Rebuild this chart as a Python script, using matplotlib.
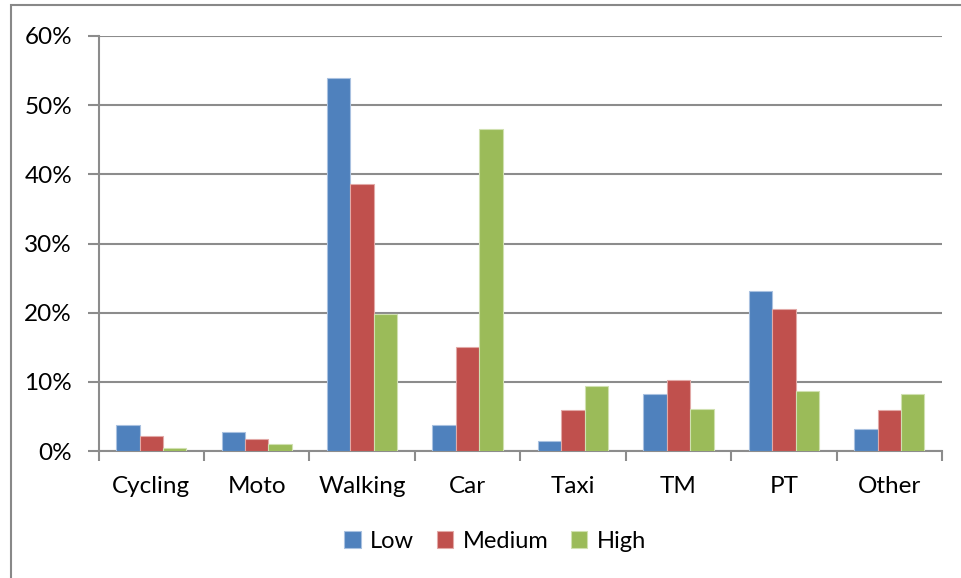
import numpy as np
import matplotlib.pyplot as plt
from matplotlib.patches import Rectangle

plt.rcParams['font.family'] = ['Lato', 'DejaVu Sans']

# Modal split by income level (% of trips)
modos = ['Cycling', 'Moto', 'Walking', 'Car', 'Taxi', 'TM', 'PT', 'Other']
low = [3.8, 2.8, 54.0, 3.7, 1.5, 8.2, 23.1, 3.2]
medium = [2.1, 1.8, 38.6, 15.0, 6.0, 10.3, 20.5, 6.0]
high = [0.4, 1.0, 19.8, 46.5, 9.4, 6.1, 8.7, 8.3]

series = [('Low', low, '#4F81BD', '#a9c1e0'),
          ('Medium', medium, '#C0504D', '#e2a9a7'),
          ('High', high, '#9BBB59', '#d0e0b0')]

W, H = 962, 578
fig = plt.figure(figsize=(W / 100, H / 100), dpi=100)

# marco exterior del gráfico
fig.patches.append(Rectangle((10.5 / W, -0.1), 1.2, 1 - 5.5 / H + 0.1,
                             transform=fig.transFigure, fill=False,
                             edgecolor='#888888', linewidth=1.5))

ax = fig.add_axes([98.5 / W, 1 - 451 / H, (942 - 98.5) / W, (451 - 36) / H])

x = np.arange(len(modos))
ancho = 1 / 4.5
for i, (nombre, vals, color, borde) in enumerate(series):
    ax.bar(x + (i - 1) * ancho, vals, ancho, color=color, edgecolor=borde,
           linewidth=0.8, label=nombre, zorder=3)

ax.set_xlim(-0.5, len(modos) - 0.5)
ax.set_ylim(0, 60)
ax.set_yticks(np.arange(0, 61, 10))
ax.set_yticklabels([f'{v}%' for v in range(0, 61, 10)])
ax.yaxis.grid(True, color='#8c8c8c', linewidth=1.5, zorder=0)
ax.set_axisbelow(True)

ax.set_xticks(x)
ax.set_xticklabels(modos)
ax.set_xticks(np.arange(-0.5, len(modos)), minor=True)
ax.tick_params(axis='x', which='major', length=0, pad=18, labelsize=17.5)
ax.tick_params(axis='x', which='minor', length=7, width=1.5, color='#8c8c8c')
ax.tick_params(axis='y', length=8, width=1.5, color='#8c8c8c', pad=11,
               labelsize=17.5)

for lado in ['top', 'right']:
    ax.spines[lado].set_visible(False)
for lado in ['left', 'bottom']:
    ax.spines[lado].set_color('#8c8c8c')
    ax.spines[lado].set_linewidth(1.5)

fig.legend(loc='center', bbox_to_anchor=(495 / W, 1 - 541 / H), ncol=3,
           frameon=False, fontsize=17, handlelength=0.7, handleheight=0.7,
           handletextpad=0.4, columnspacing=0.95)

plt.savefig('out.png', dpi=100)
